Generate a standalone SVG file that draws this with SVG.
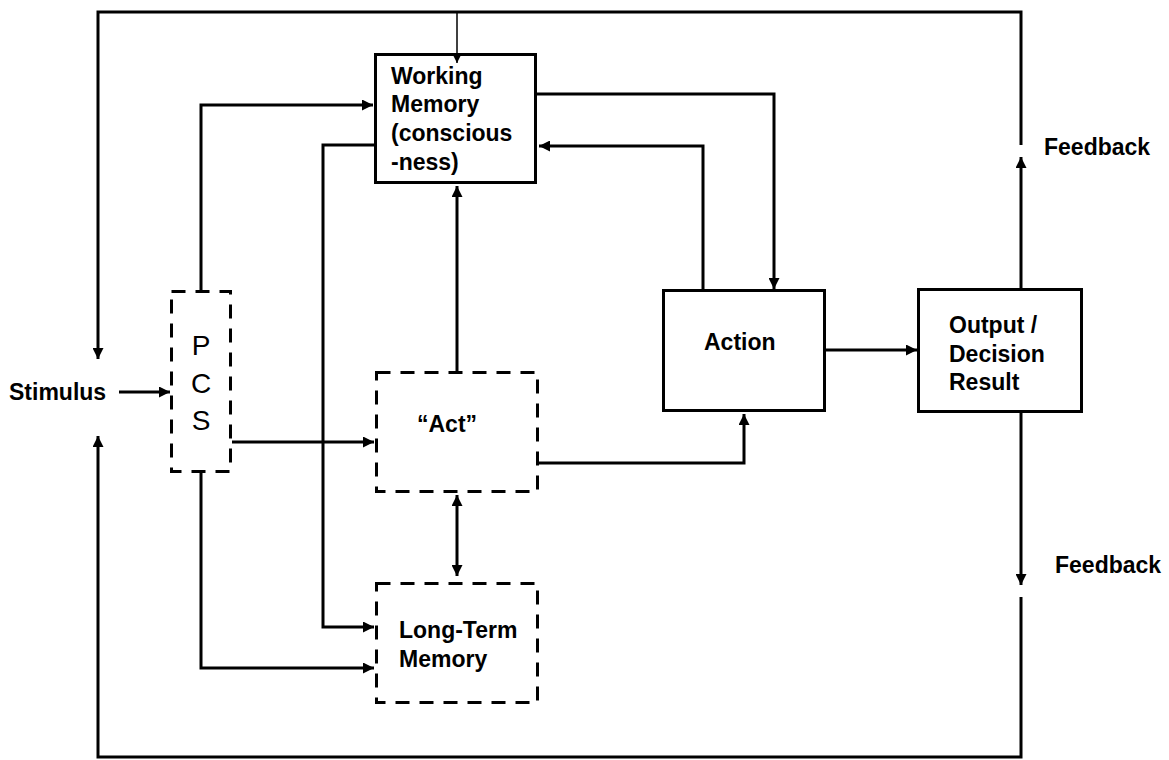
<svg xmlns="http://www.w3.org/2000/svg" width="1169" height="760" viewBox="0 0 1169 760">
<defs>
<style>
.box{fill:#fff;stroke:#000;stroke-width:3}
.dash{fill:#fff;stroke:#000;stroke-width:3;stroke-dasharray:14 10}
.c{fill:none;stroke:#000;stroke-width:3}
.thin{fill:none;stroke:#000;stroke-width:1.5}
.t{font-family:"Liberation Sans",Arial,sans-serif;font-weight:bold;font-size:23px;fill:#000}
.p{font-family:"Liberation Sans",Arial,sans-serif;font-size:28px;fill:#000;text-anchor:middle}
</style>
<marker id="ah" viewBox="0 0 10 10" refX="10" refY="5" markerWidth="11" markerHeight="11" markerUnits="userSpaceOnUse" orient="auto-start-reverse">
<path d="M0,0 L10,5 L0,10 z" fill="#000"/>
</marker>
<marker id="ahs" viewBox="0 0 10 10" refX="10" refY="5" markerWidth="9" markerHeight="9" markerUnits="userSpaceOnUse" orient="auto">
<path d="M0,0 L10,5 L0,10 z" fill="#000"/>
</marker>
</defs>
<rect width="1169" height="760" fill="#fff"/>
<g id="stimulus"><text class="t" x="9" y="400">Stimulus</text></g>
<g id="pcs">
<rect class="dash" x="171.5" y="291.5" width="59" height="180"/>
<text class="p" x="201" y="355">P</text>
<text class="p" x="201" y="393">C</text>
<text class="p" x="201" y="430">S</text>
</g>
<g id="working-memory">
<rect class="box" x="375.5" y="54.5" width="160" height="128"/>
<text class="t" x="391" y="84">Working</text>
<text class="t" x="391" y="112">Memory</text>
<text class="t" x="391" y="141">(conscious</text>
<text class="t" x="391" y="170">-ness)</text>
</g>
<g id="act">
<rect class="dash" x="376.5" y="372.5" width="161" height="119"/>
<text class="t" x="417" y="432">“Act”</text>
</g>
<g id="long-term-memory">
<rect class="dash" x="376.5" y="583.5" width="161" height="119"/>
<text class="t" x="399" y="638">Long-Term</text>
<text class="t" x="399" y="667">Memory</text>
</g>
<g id="action">
<rect class="box" x="663.5" y="290.5" width="161" height="120"/>
<text class="t" x="704" y="350">Action</text>
</g>
<g id="output">
<rect class="box" x="918.5" y="289.5" width="163" height="122"/>
<text class="t" x="949" y="333">Output /</text>
<text class="t" x="949" y="362">Decision</text>
<text class="t" x="949" y="390">Result</text>
</g>
<g id="feedback-top"><text class="t" x="1044" y="155">Feedback</text></g>
<g id="feedback-bottom"><text class="t" x="1055" y="573">Feedback</text></g>
<g id="connectors">
<path class="c" d="M1021,145 V12 H98 V359" marker-end="url(#ah)"/>
<path class="c" d="M1021,597 V757 H98 V436" marker-end="url(#ah)"/>
<path class="c" d="M1021,288 V157" marker-end="url(#ah)"/>
<path class="c" d="M1021,413 V585" marker-end="url(#ah)"/>
<path class="thin" d="M457,12 V63" marker-end="url(#ahs)"/>
<path class="c" d="M119,392 H170" marker-end="url(#ah)"/>
<path class="c" d="M201,290 V105 H373" marker-end="url(#ah)"/>
<path class="c" d="M232,442 H374" marker-end="url(#ah)"/>
<path class="c" d="M201,473 V668 H374" marker-end="url(#ah)"/>
<path class="c" d="M374,145 H323 V627 H374" marker-end="url(#ah)"/>
<path class="c" d="M457,371 V186" marker-end="url(#ah)"/>
<path class="c" d="M457,495 V576" marker-start="url(#ah)" marker-end="url(#ah)"/>
<path class="c" d="M539,463 H744 V414" marker-end="url(#ah)"/>
<path class="c" d="M537,94 H774 V289" marker-end="url(#ah)"/>
<path class="c" d="M703,289 V146 H539" marker-end="url(#ah)"/>
<path class="c" d="M826,350 H917" marker-end="url(#ah)"/>
</g>
</svg>
